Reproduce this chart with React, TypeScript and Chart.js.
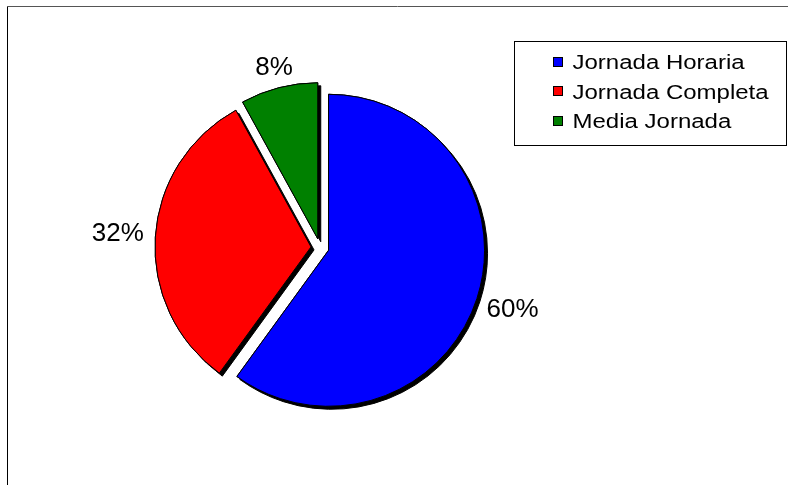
import React, { useEffect, useRef } from "react";
import { Chart, registerables } from "chart.js";

Chart.register(...registerables);

const categories = ["Jornada Horaria", "Jornada Completa", "Media Jornada"];
const values = [60, 32, 8];
const valueLabels = ["60%", "32%", "8%"];
const colors = ["#0000FF", "#FF0000", "#008000"];

const FONT = "'Liberation Sans', Arial, sans-serif";

export default function App() {
  const ref = useRef<HTMLCanvasElement>(null);

  useEffect(() => {
    if (!ref.current) return;
    const EXPLODE = 9;

    const explodePlugin = {
      id: "explodeShadow",
      beforeDatasetDraw(chart: any, args: any) {
        const ctx = chart.ctx;
        const arcs = args.meta.data;
        arcs.forEach((arc: any) => {
          const mid = (arc.startAngle + arc.endAngle) / 2;
          ctx.save();
          ctx.translate(Math.cos(mid) * EXPLODE, Math.sin(mid) * EXPLODE);
          ctx.shadowColor = "rgba(0,0,0,1)";
          ctx.shadowOffsetX = 3;
          ctx.shadowOffsetY = 3;
          ctx.shadowBlur = 0;
          arc.draw(ctx);
          ctx.restore();
        });
        arcs.forEach((arc: any) => {
          const mid = (arc.startAngle + arc.endAngle) / 2;
          ctx.save();
          ctx.translate(Math.cos(mid) * EXPLODE, Math.sin(mid) * EXPLODE);
          arc.draw(ctx);
          ctx.restore();
        });
        return false;
      },
    };

    const decorPlugin = {
      id: "decor",
      afterDraw(chart: any) {
        const ctx = chart.ctx;
        const arcs = chart.getDatasetMeta(0).data;

        ctx.save();
        ctx.font = "26px " + FONT;
        ctx.fillStyle = "#000";
        ctx.textAlign = "center";
        ctx.textBaseline = "alphabetic";
        arcs.forEach((arc: any, i: number) => {
          const mid = (arc.startAngle + arc.endAngle) / 2;
          const cx = Math.cos(mid);
          const cy = Math.sin(mid);
          const vx = arc.x + cx * EXPLODE;
          const vy = arc.y + cy * EXPLODE;
          const txt = valueLabels[i];
          const w = ctx.measureText(txt).width;
          const h = 16;
          const ext = Math.min(
            Math.abs(cx) > 1e-6 ? w / 2 / Math.abs(cx) : 1e9,
            Math.abs(cy) > 1e-6 ? h / 2 / Math.abs(cy) : 1e9
          );
          const d = arc.outerRadius + 11.5 + ext;
          const px = vx + cx * d;
          const py = vy + cy * d;
          ctx.fillText(txt, px, py + 6.5);
        });
        ctx.restore();

        ctx.save();
        ctx.strokeStyle = "#000";
        ctx.lineWidth = 1;
        ctx.strokeRect(514.5, 41.5, 272, 104);
        categories.forEach((label, i) => {
          const y = 61.5 + i * 29.75;
          ctx.fillStyle = colors[i];
          ctx.fillRect(553, Math.round(y - 5), 10, 10);
          ctx.strokeStyle = "#000";
          ctx.strokeRect(553.5, Math.round(y - 5) + 0.5, 9, 9);
          ctx.save();
          ctx.translate(572.5, y + 7.3);
          ctx.scale(1.2, 1);
          ctx.font = "20px " + FONT;
          ctx.fillStyle = "#000";
          ctx.textAlign = "left";
          ctx.textBaseline = "alphabetic";
          ctx.fillText(label, 0, 0);
          ctx.restore();
        });
        ctx.restore();

        ctx.save();
        ctx.lineWidth = 1;
        ctx.strokeStyle = "#000";
        ctx.beginPath();
        ctx.moveTo(7.5, 6);
        ctx.lineTo(7.5, 485);
        ctx.stroke();
        ctx.strokeStyle = "#555";
        ctx.beginPath();
        ctx.moveTo(7, 6.5);
        ctx.lineTo(788, 6.5);
        ctx.stroke();
        ctx.restore();
      },
    };

    const chart = new Chart(ref.current, {
      type: "pie",
      data: {
        labels: categories,
        datasets: [
          {
            data: values,
            backgroundColor: colors,
            borderColor: "#000",
            borderWidth: 1,
            hoverOffset: 0,
            radius: 156,
          } as any,
        ],
      },
      options: {
        responsive: false,
        animation: false,
        events: [],
        radius: 156,
        layout: { padding: { left: 0, right: 148, top: 10, bottom: 0 } },
        plugins: {
          legend: { display: false },
          tooltip: { enabled: false },
        },
      } as any,
      plugins: [explodePlugin, decorPlugin],
    });

    return () => chart.destroy();
  }, []);

  return (
    <div style={{ position: "fixed", left: 0, top: 0, width: 788, height: 485, background: "#fff" }}>
      <canvas ref={ref} width={788} height={485} style={{ display: "block", width: 788, height: 485 }} />
    </div>
  );
}
